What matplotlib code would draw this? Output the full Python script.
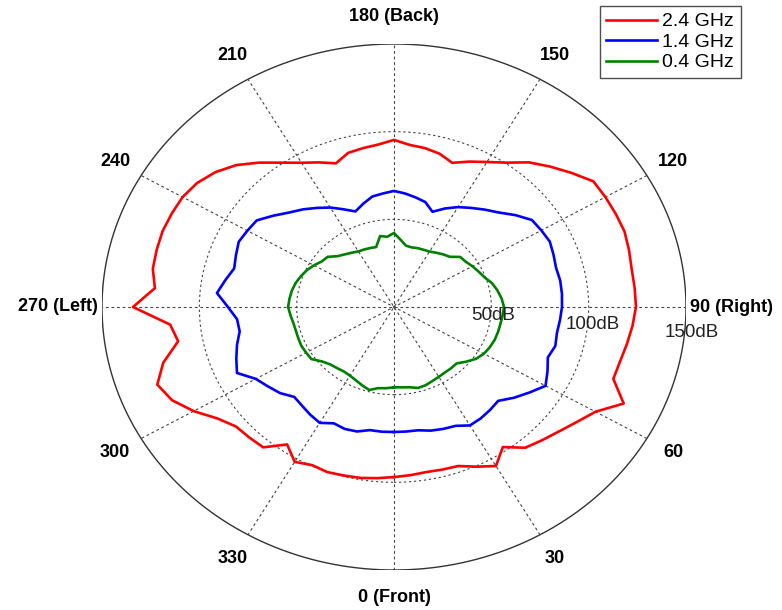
import numpy as np
import matplotlib
matplotlib.use("Agg")
import matplotlib.pyplot as plt

plt.rcParams['font.family'] = ['Liberation Sans', 'DejaVu Sans']

# ---- data (angle in degrees, 0 = Front, counter-clockwise to 90 = Right) ----
angles_deg = list(range(0, 360, 5))

r_24 = [97, 96.3, 95.6, 96, 96.5, 100.5, 104.7, 97.5, 104.8, 107.5, 110.5, 114.5,
        119.5, 130.2, 119.9, 120.2, 121.5, 123, 124.3, 124.1, 124.0, 125, 126, 125.7,
        125.4, 125, 119, 113.3, 107.7, 100.5, 95.5, 91.5, 87.5, 90.5, 92, 92.8,
        95.3, 93, 92, 91, 87.2, 91, 95, 100.5, 107.5, 114.5, 119.7, 123.4,
        125.4, 126, 126.5, 126.2, 125.8, 123.3, 134.1, 115.4, 112.6, 122.7, 129.4, 125.8,
        118.8, 110.8, 106, 105.2, 104.5, 95.7, 102, 99.5, 100.2, 99.5, 99, 98]

r_14 = [71.3, 71.3, 71.4, 73, 74, 74.8, 78, 77.6, 76.7, 75.7, 80.5, 85,
        89.9, 87, 84.1, 85.8, 85, 85.6, 86.3, 86.6, 86.7, 86.2, 87.2, 88.3,
        87.4, 86.5, 81.5, 76.2, 72.5, 69, 65.8, 62, 57.8, 62, 63.5, 65,
        66.2, 65, 64, 61, 58, 61.5, 65.5, 69, 72.7, 76.2, 81, 86.1,
        87, 88, 86.4, 85, 88, 91.3, 85.3, 80.9, 80.5, 83.5, 86.2, 89,
        82, 79, 76.4, 72.5, 73.5, 75, 76.3, 73.2, 74, 73.5, 71.3, 71.4]

r_04 = [45.8, 46, 46.5, 47.8, 47.5, 46.6, 46, 45.6, 45.6, 45.5, 48.5, 51.5,
        53.3, 54.3, 55, 55.3, 55.5, 56, 56.5, 55.5, 54, 52.2, 49.5, 47.9,
        46.5, 45, 44.4, 40.5, 39.2, 37.8, 36.5, 36, 35.7, 35.2, 35.5, 38.5,
        42.2, 40.2, 41.1, 35.4, 35.8, 36.2, 36.6, 37.8, 39.2, 41, 44.5, 45.3,
        47.5, 49.5, 51, 52.4, 53.3, 53.9, 54.4, 53.4, 52.5, 52.2, 52.3, 52.5,
        52.1, 51.8, 48.3, 46.3, 45.5, 44.9, 45.2, 46.2, 47.6, 49.0, 47.0, 46.5]

series_labels = ['2.4 GHz', '1.4 GHz', '0.4 GHz']
series_colors = ['#ff0000', '#0000ff', '#008000']

rings = [50, 100, 150]
ring_labels = ['50dB', '100dB', '150dB']
spoke_angles = [0, 30, 60, 90, 120, 150, 180, 210, 240, 270, 300, 330]
spoke_labels = ['0 (Front)', '30', '60', '90 (Right)', '120', '150', '180 (Back)',
                '210', '240', '270 (Left)', '300', '330']
RMAX = 150


def to_xy(theta_deg, r):
    t = np.deg2rad(np.asarray(theta_deg, dtype=float))
    r = np.asarray(r, dtype=float)
    return r * np.sin(t), -r * np.cos(t)


fig = plt.figure(figsize=(7.82, 6.10), dpi=100)
ax = fig.add_axes([102 / 782, 40 / 610, 584 / 782, 526 / 610])
ax.set_xlim(-RMAX, RMAX)
ax.set_ylim(-RMAX, RMAX)
ax.set_aspect('auto')
ax.axis('off')

# grid: rings
tt = np.linspace(0, 360, 721)
for rv in rings[:-1]:
    x, y = to_xy(tt, np.full_like(tt, rv))
    ax.plot(x, y, color='#444444', lw=0.8, ls=(0, (2, 2.5)), zorder=1)
x, y = to_xy(tt, np.full_like(tt, RMAX))
ax.plot(x, y, color='#333333', lw=1.0, zorder=1)

# grid: spokes
for a in spoke_angles[:6]:
    x, y = to_xy([a, a + 180], [RMAX, RMAX])
    ax.plot(x, y, color='#444444', lw=0.8, ls=(0, (2.5, 2.5)), zorder=1)

# data
for rr, lab, col in zip([r_24, r_14, r_04], series_labels, series_colors):
    th = angles_deg + [angles_deg[0]]
    rv = list(rr) + [rr[0]]
    x, y = to_xy(th, rv)
    ax.plot(x, y, color=col, lw=1.9, label=lab, zorder=3)

# angle labels
for a, lab in zip(spoke_angles, spoke_labels):
    if a == 90:
        x, y = to_xy(a, 152)
        ax.text(x, y, lab, ha='left', va='center', fontsize=13, fontweight='bold')
    elif a == 270:
        x, y = to_xy(a, 152)
        ax.text(x, y, lab, ha='right', va='center', fontsize=13, fontweight='bold')
    else:
        x, y = to_xy(a, 165.5)
        ax.text(x, y, lab, ha='center', va='center', fontsize=13, fontweight='bold')

# ring labels
for rv, lab in zip(rings, ring_labels):
    x, y = to_xy(84.5, rv * 1.025)
    ax.text(float(x), float(y), lab, ha='center', va='center', fontsize=13.5,
            color='#222222', zorder=4)

leg = ax.legend(loc='upper right', bbox_to_anchor=(741 / 782, 1 - 6 / 610),
                bbox_transform=fig.transFigure, fontsize=14, frameon=True,
                fancybox=False, shadow=False, handlelength=2.6, handletextpad=0.28,
                labelspacing=0.15, borderpad=0.35, borderaxespad=0)
leg.get_frame().set_edgecolor('#222222')
leg.get_frame().set_linewidth(1.0)

fig.savefig('out.png', dpi=100, facecolor='white')
